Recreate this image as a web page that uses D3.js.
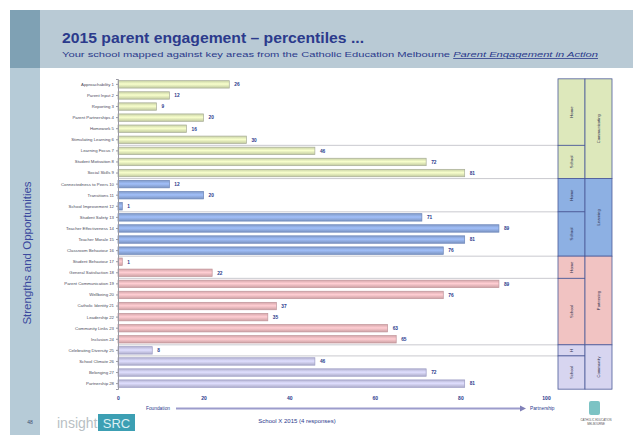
<!DOCTYPE html>
<html>
<head>
<meta charset="utf-8">
<script src="https://cdn.jsdelivr.net/npm/d3@7"></script>
<style>
  body { margin: 0; background: #fff; }
  svg { display: block; font-family: "Liberation Sans", Arial, sans-serif; }
</style>
</head>
<body>
<svg id="slide"></svg>
<script>
const W = 633, H = 435;

// Data
const labels = [
  "Approachability 1", "Parent Input 2", "Reporting 3", "Parent Partnerships 4",
  "Homework 5", "Stimulating Learning 6", "Learning Focus 7", "Student Motivation 8",
  "Social Skills 9", "Connectedness to Peers 10", "Transitions 11", "School Improvement 12",
  "Student Safety 13", "Teacher Effectiveness 14", "Teacher Morale 15", "Classroom Behaviour 16",
  "Student Behaviour 17", "General Satisfaction 18", "Parent Communication 19", "Wellbeing 20",
  "Catholic Identity 21", "Leadership 22", "Community Links 23", "Inclusion 24",
  "Celebrating Diversity 25", "School Climate 26", "Belonging 27", "Partnership 28"
];
const values = [26, 12, 9, 20, 16, 30, 46, 72, 81, 12, 20, 1, 71, 89, 81, 76, 1, 22, 89, 76, 37, 35, 63, 65, 8, 46, 72, 81];
const groupOf = [0,0,0,0,0,0,0,0,0, 1,1,1,1,1,1,1, 2,2,2,2,2,2,2,2, 3,3,3,3];
const groupNames = ["Communicating", "Learning", "Partnering", "Community"];
// sub sections: [first row, last row, label, group]
const subSections = [
  [0, 5, "Home", 0], [6, 8, "School", 0],
  [9, 11, "Home", 1], [12, 15, "School", 1],
  [16, 17, "Home", 2], [18, 23, "School", 2],
  [24, 24, "H", 3], [25, 27, "School", 3]
];
const ticks = [0, 20, 40, 60, 80, 100];

const barFill = ["#dbe5b4", "#8ea9dc", "#e8b6ba", "#c6c5e6"];
const barEdge = ["#a8ad98", "#6a84b8", "#c0949a", "#9c9cc4"];
const boxFill = ["#dde8bb", "#8db0e3", "#f1c3c2", "#d7d5f0"];

const svg = d3.select("#slide").attr("width", W).attr("height", H);

// slide background
svg.append("rect").attr("x", 10).attr("y", 10).attr("width", W - 10).attr("height", 58).attr("fill", "#b9cad5");
svg.append("rect").attr("x", 10).attr("y", 10).attr("width", 30).attr("height", 58).attr("fill", "#7fa1b4");
svg.append("rect").attr("x", 10).attr("y", 68).attr("width", 30).attr("height", H - 68).attr("fill", "#b6cbd7");

const title = svg.append("text").attr("x", 62).attr("y", 43)
  .attr("font-size", 15).attr("font-weight", "bold").attr("fill", "#2b3a8c")
  .attr("textLength", 302).attr("lengthAdjust", "spacingAndGlyphs")
  .text("2015 parent engagement – percentiles ...");

const sub = svg.append("text").attr("x", 62).attr("y", 57)
  .attr("font-size", 8).attr("fill", "#2b3a8c")
  .attr("textLength", 536).attr("lengthAdjust", "spacingAndGlyphs")
  .text("Your school mapped against key areas from the Catholic Education Melbourne ");
sub.append("tspan").attr("font-style", "italic").attr("text-decoration", "underline")
  .text("Parent Engagement in Action");

svg.append("text")
  .attr("transform", "translate(31,253) rotate(-90)")
  .attr("text-anchor", "middle").attr("font-size", 11.5).attr("fill", "#3b4a9e")
  .text("Strengths and Opportunities");

// chart
const x = d3.scaleLinear().domain([0, 100]).range([118, 546]);
const y = d3.scaleBand().domain(d3.range(labels.length)).range([79, 389]).paddingInner(0.33).paddingOuter(0.15);
const step = y.step();
const rowTop = i => y(i) - step * 0.165;
const rowBot = i => rowTop(i) + step;

// gradients for bars
const defs = svg.append("defs");
barFill.forEach((c, g) => {
  const lg = defs.append("linearGradient").attr("id", "bar" + g).attr("x1", 0).attr("x2", 0).attr("y1", 0).attr("y2", 1);
  lg.append("stop").attr("offset", "0%").attr("stop-color", d3.color(c).darker(0.25));
  lg.append("stop").attr("offset", "45%").attr("stop-color", d3.color(c).brighter(0.35));
  lg.append("stop").attr("offset", "100%").attr("stop-color", d3.color(c).darker(0.35));
});

// separators at section boundaries
const boundaries = subSections.map(s => s[1]).slice(0, -1);
svg.append("g").selectAll("line").data(boundaries).join("line")
  .attr("x1", x(0)).attr("x2", 559)
  .attr("y1", d => rowBot(d)).attr("y2", d => rowBot(d))
  .attr("stroke", "#c9c9cf").attr("stroke-width", 1);

svg.append("g").selectAll("rect").data(values).join("rect")
  .attr("x", x(0)).attr("y", (d, i) => y(i))
  .attr("width", d => Math.max(x(d) - x(0), 2)).attr("height", y.bandwidth())
  .attr("fill", (d, i) => `url(#bar${groupOf[i]})`)
  .attr("stroke", (d, i) => barEdge[groupOf[i]]).attr("stroke-width", 0.7);

svg.append("g").selectAll("text").data(values).join("text")
  .attr("x", d => Math.max(x(d), x(0) + 2) + 5).attr("y", (d, i) => y(i) + y.bandwidth() / 2 + 1.8)
  .attr("font-size", 4.8).attr("font-weight", "bold").attr("fill", "#2b3a8c")
  .text(d => d);

// y axis with category labels
const yAxis = d3.axisLeft(y).tickSize(2).tickFormat(i => labels[i]);
const ya = svg.append("g").attr("transform", `translate(${x(0)},0)`).call(yAxis);
ya.select(".domain").attr("stroke", "#9a9aa4");
ya.selectAll(".tick line").attr("stroke", "#9a9aa4");
ya.selectAll(".tick text").attr("font-size", 4.3).attr("fill", "#4a4a5a").attr("x", -4);

// x axis tick labels
const xAxis = d3.axisBottom(x).tickValues(ticks).tickSize(0).tickFormat(d => d);
const xa = svg.append("g").attr("transform", "translate(0,393)").call(xAxis);
xa.select(".domain").remove();
xa.selectAll(".tick text").attr("font-size", 5).attr("font-weight", "bold").attr("fill", "#2b3a8c");

// foundation -> partnership arrow
svg.append("text").attr("x", 170).attr("y", 410).attr("text-anchor", "end")
  .attr("font-size", 4.8).attr("fill", "#2b3a8c").text("Foundation");
svg.append("line").attr("x1", 176).attr("x2", 523).attr("y1", 408.5).attr("y2", 408.5)
  .attr("stroke", "#9c9ccc").attr("stroke-width", 2.2);
svg.append("path").attr("d", "M520,405.5 L526,408.5 L520,411.5 Z").attr("fill", "#8080b8");
svg.append("text").attr("x", 530).attr("y", 410)
  .attr("font-size", 4.8).attr("fill", "#2b3a8c").text("Partnership");

// right-hand classification boxes
const c1 = 558, c2 = 585, c3 = 612;
subSections.forEach(([a, b, name, g]) => {
  const top = rowTop(a), bot = rowBot(b);
  svg.append("rect").attr("x", c1).attr("y", top).attr("width", c2 - c1).attr("height", bot - top)
    .attr("fill", boxFill[g]).attr("stroke", "#4c5a98").attr("stroke-width", 0.8);
  svg.append("text")
    .attr("transform", `translate(${(c1 + c2) / 2 + 1.5},${(top + bot) / 2}) rotate(-90)`)
    .attr("text-anchor", "middle").attr("font-size", 4.2).attr("fill", "#2b2b4a").text(name);
});
groupNames.forEach((name, g) => {
  const rows = d3.range(groupOf.length).filter(i => groupOf[i] === g);
  const top = rowTop(rows[0]), bot = rowBot(rows[rows.length - 1]);
  svg.append("rect").attr("x", c2).attr("y", top).attr("width", c3 - c2).attr("height", bot - top)
    .attr("fill", boxFill[g]).attr("stroke", "#4c5a98").attr("stroke-width", 0.8);
  svg.append("text")
    .attr("transform", `translate(${(c2 + c3) / 2 + 1.5},${(top + bot) / 2}) rotate(-90)`)
    .attr("text-anchor", "middle").attr("font-size", 4.2).attr("fill", "#2b2b4a").text(name);
});

// footer
svg.append("text").attr("x", 30).attr("y", 424).attr("text-anchor", "middle")
  .attr("font-size", 5).attr("fill", "#3b4a6e").text("48");
svg.append("text").attr("x", 57).attr("y", 428).attr("font-size", 14).attr("fill", "#b9bfc4").text("insight");
svg.append("rect").attr("x", 98).attr("y", 414).attr("width", 37).attr("height", 17).attr("fill", "#3c9fb3");
svg.append("text").attr("x", 116.5).attr("y", 428).attr("text-anchor", "middle")
  .attr("font-size", 13).attr("fill", "#dcefF3").text("SRC");
svg.append("text").attr("x", 297).attr("y", 423).attr("text-anchor", "middle")
  .attr("font-size", 6).attr("fill", "#2b3a8c").text("School X 2015 (4 responses)");
svg.append("rect").attr("x", 589).attr("y", 401).attr("width", 11).attr("height", 14).attr("rx", 2).attr("fill", "#7cc3c4");
svg.append("text").attr("x", 596).attr("y", 421).attr("text-anchor", "middle")
  .attr("font-size", 2.8).attr("fill", "#555").text("CATHOLIC EDUCATION");
svg.append("text").attr("x", 596).attr("y", 425).attr("text-anchor", "middle")
  .attr("font-size", 2.8).attr("fill", "#555").text("MELBOURNE");
</script>
</body>
</html>
